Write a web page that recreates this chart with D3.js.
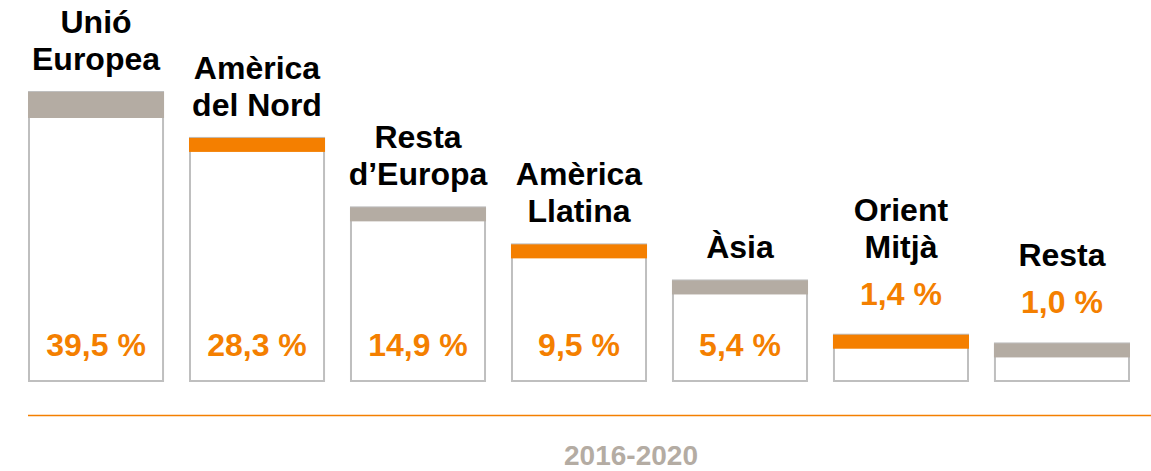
<!DOCTYPE html>
<html>
<head>
<meta charset="utf-8">
<script src="https://cdn.jsdelivr.net/npm/d3@7"></script>
<style>
  body { margin: 0; background: #fff; }
  svg { display: block; font-family: "Liberation Sans", Arial, sans-serif; font-weight: bold; }
</style>
</head>
<body>
<div id="viz"></div>
<script>
// categories (each label split into lines) and their shares
const regions = ["Unió Europea", "Amèrica del Nord", "Resta d’Europa", "Amèrica Llatina", "Àsia", "Orient Mitjà", "Resta"];
const regionLines = [["Unió", "Europea"], ["Amèrica", "del Nord"], ["Resta", "d’Europa"], ["Amèrica", "Llatina"], ["Àsia"], ["Orient", "Mitjà"], ["Resta"]];
const shares = [39.5, 28.3, 14.9, 9.5, 5.4, 1.4, 1.0];
const period = "2016-2020";

const width = 1151, height = 471;
const bottom = 381;//bottom edge of the boxes
const orange = "#f47f00", taupe = "#b4aca3", border = "#bfbfbf";

const svg = d3.select("#viz")
  .append("svg")
  .attr("width", width)
  .attr("height", height);

//x: one band per region
const x = d3.scaleBand()
  .domain(regions)
  .range([28, 1130])
  .paddingInner(0.155)
  .paddingOuter(0);

//y: box heights follow the square root of the share
const y = d3.scaleSqrt()
  .domain([0, 39.5])
  .range([bottom + 10, 92]);

const fmt = v => d3.format(".1f")(v).replace(".", ",") + " %";

const g = svg.selectAll("g.region")
  .data(regions)
  .enter()
  .append("g")
  .attr("class", "region");

//white box with grey outline
g.append("rect")
  .attr("x", d => x(d) + 1)
  .attr("y", (d, i) => y(shares[i]))
  .attr("width", x.bandwidth() - 2)
  .attr("height", (d, i) => bottom - y(shares[i]))
  .attr("fill", "#fff")
  .attr("stroke", border)
  .attr("stroke-width", 2);

//coloured band on top (orange / taupe alternating)
g.append("rect")
  .attr("x", d => x(d))
  .attr("y", (d, i) => y(shares[i]))
  .attr("width", x.bandwidth())
  .attr("height", (d, i) => i === 0 ? 26 : 14)
  .attr("fill", (d, i) => i % 2 ? orange : taupe);

//value label: inside the box, or above it when the box is too short
g.append("text")
  .attr("x", d => x(d) + x.bandwidth() / 2)
  .attr("y", (d, i) => shares[i] < 2 ? y(shares[i]) - 30 : bottom - 25)
  .attr("text-anchor", "middle")
  .attr("fill", orange)
  .style("font-size", "32px")
  .text((d, i) => fmt(shares[i]));

//region name above the box
g.each(function(d, i) {
  const lines = regionLines[i];
  const last = shares[i] < 2 ? y(shares[i]) - 77 : y(shares[i]) - 22;
  const t = d3.select(this).append("text")
    .attr("text-anchor", "middle")
    .attr("fill", "#000")
    .style("font-size", "32px");
  lines.forEach((line, j) => {
    t.append("tspan")
      .attr("x", x(d) + x.bandwidth() / 2)
      .attr("y", last - (lines.length - 1 - j) * 37)
      .text(line);
  });
});

//orange baseline
svg.append("line")
  .attr("x1", 28)
  .attr("x2", width)
  .attr("y1", 415.5)
  .attr("y2", 415.5)
  .attr("stroke", orange)
  .attr("stroke-width", 1.5);

//period label
svg.append("text")
  .attr("x", 631)
  .attr("y", 465)
  .attr("text-anchor", "middle")
  .attr("fill", taupe)
  .style("font-size", "28px")
  .text(period);
</script>
</body>
</html>
